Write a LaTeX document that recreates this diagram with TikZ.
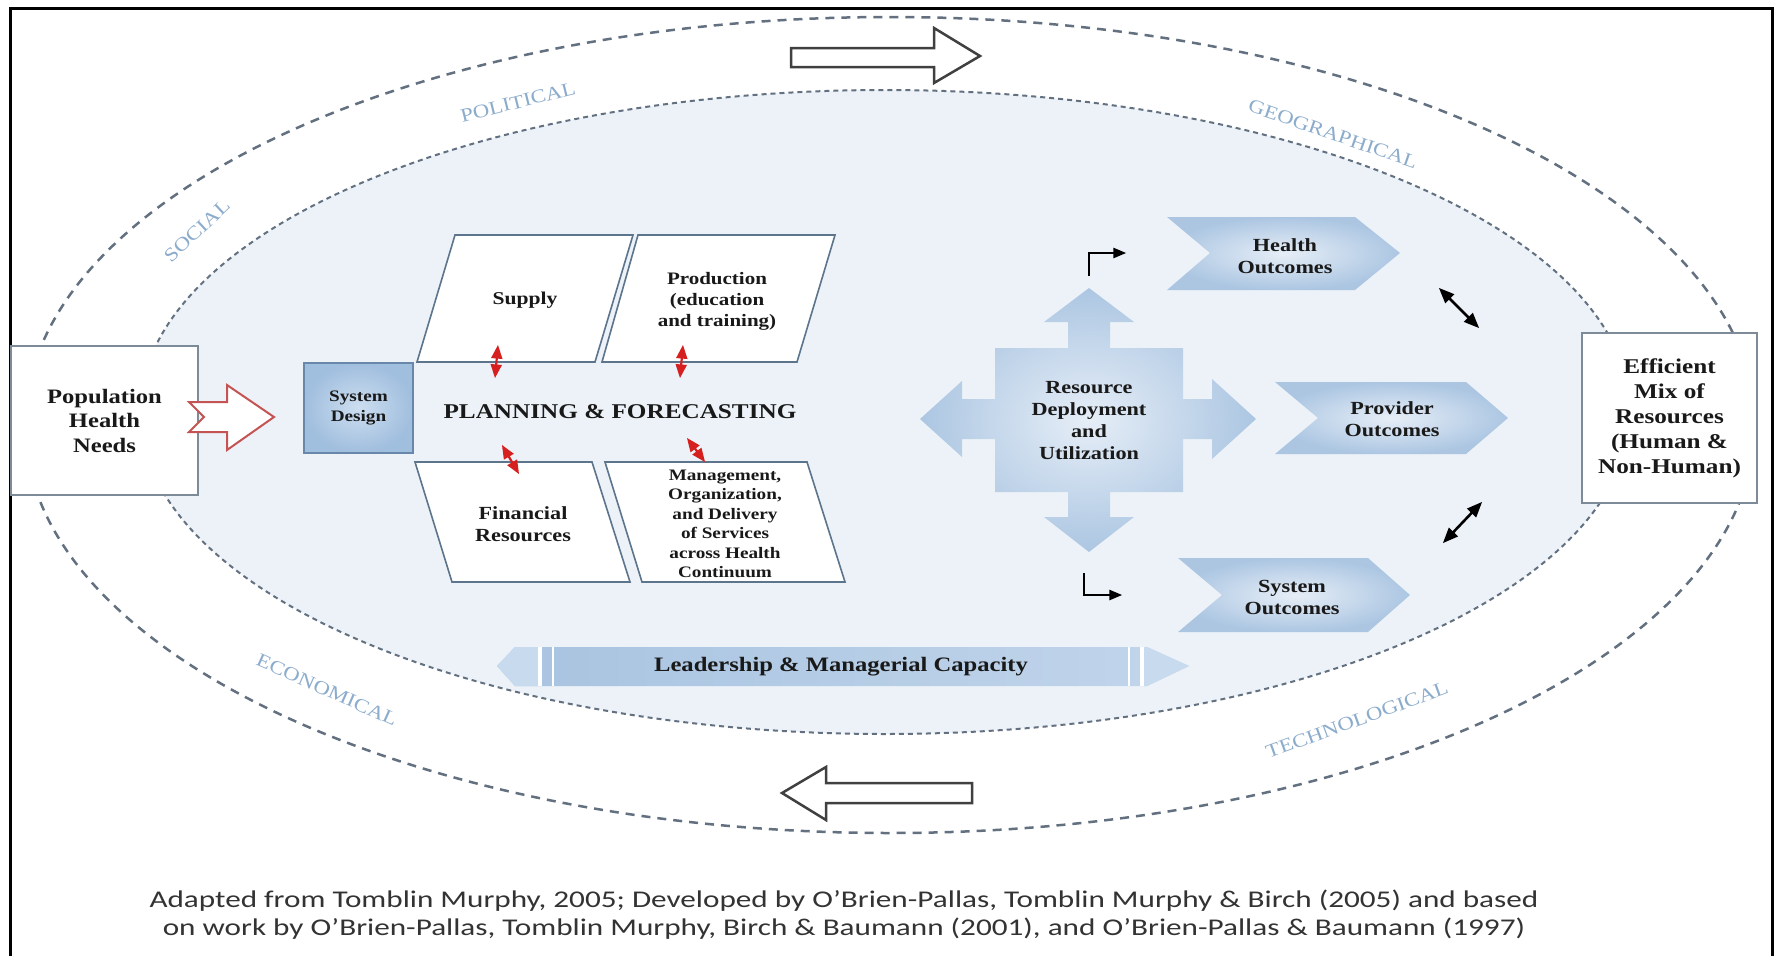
\documentclass[tikz,border=0pt]{standalone}
\usepackage{fontspec}
\setmainfont[FakeStretch=1.2]{Liberation Serif}
\newfontfamily\capfont[FakeStretch=1.3]{Carlito}
\usetikzlibrary{arrows}
\definecolor{ringgray}{RGB}{98,112,128}
\definecolor{labelblue}{RGB}{140,172,204}
\definecolor{innerfill}{RGB}{236,242,248}
\definecolor{boxline}{RGB}{125,138,152}
\definecolor{paraline}{RGB}{92,116,140}
\definecolor{sdlight}{RGB}{205,222,240}
\definecolor{sddark}{RGB}{160,190,222}
\definecolor{sdline}{RGB}{105,135,168}
\definecolor{chevlight}{RGB}{230,238,247}
\definecolor{chevdark}{RGB}{172,198,226}
\definecolor{barlight}{RGB}{200,218,238}
\definecolor{bardark}{RGB}{168,195,224}
\definecolor{blockred}{RGB}{196,84,84}
\definecolor{arrowred}{RGB}{214,32,32}
\tikzset{
  ring/.style={draw=ringgray, line width=2.5pt, dash pattern=on 9pt off 7pt},
  innerring/.style={draw=ringgray, line width=2pt, dash pattern=on 5pt off 4pt},
  envlabel/.style={text=labelblue, font=\fontsize{19}{19}\selectfont},
  txt/.style 2 args={align=center, inner sep=1pt, text=black!90, font=\bfseries\fontsize{#1}{#2}\selectfont},
  endbox/.style={draw=boxline, line width=2.5pt, fill=white},
  para/.style={draw=paraline, line width=1.6pt, fill=white},
  hollow/.style={draw=black!75, line width=2.5pt, fill=white},
  chev/.style={inner color=chevlight, outer color=chevdark},
  redarr/.style={<->, >=triangle 45, draw=arrowred, line width=2.2pt},
  blackarr/.style={<->, >=triangle 45, line width=2.6pt},
  bent/.style={->, >=triangle 45, line width=2pt}
}
\begin{document}
\begin{tikzpicture}[x=1pt, y=-1pt]
\useasboundingbox (0,0) rectangle (1777,956);
\fill[white] (0,0) rectangle (1777,956);
\fill[innerfill] (885,412) ellipse [x radius=745pt, y radius=322pt];
\draw[ring] (890,425) ellipse [x radius=865pt, y radius=408pt];
\draw[innerring] (885,412) ellipse [x radius=745pt, y radius=322pt];
\draw[line width=3pt] (10,956) -- (10,8) -- (1772,8) -- (1772,956);

\node[envlabel, rotate=14] (political) at (518,102) {POLITICAL};
\node[envlabel, rotate=43] (social) at (197,231) {SOCIAL};
\node[envlabel, rotate=-19] (geographical) at (1333,134) {GEOGRAPHICAL};
\node[envlabel, rotate=-24] (economical) at (327,690) {ECONOMICAL};
\node[envlabel, rotate=20] (technological) at (1357,720) {TECHNOLOGICAL};

\draw[hollow] (791,48) -- (934,48) -- (934,28) -- (980,56) -- (934,83) -- (934,67) -- (791,67) -- cycle;
\draw[hollow] (972,783) -- (826,783) -- (826,767) -- (782,793) -- (826,820) -- (826,803) -- (972,803) -- cycle;

\node[endbox, txt={20.5}{24.5}, minimum width=187pt, minimum height=149pt] (pop) at (104.5,420.5) {Population\\Health\\Needs};
\node[endbox, txt={21}{25}, minimum width=175pt, minimum height=170pt] (effmix) at (1669.5,418) {Efficient\\Mix of\\Resources\\(Human \&\\Non-Human)};
\draw[draw=blockred, line width=2pt, fill=white] (189,402) -- (227,402) -- (227,385) -- (274,417) -- (227,450) -- (227,432) -- (189,432) -- (204,417) -- cycle;
\node[draw=sdline, line width=2pt, inner color=sdlight, outer color=sddark, txt={16}{20}, minimum width=109pt, minimum height=90pt] (sysdesign) at (358.5,408) {System\\Design};

\draw[para] (455,235) -- (633,235) -- (595,362) -- (417,362) -- cycle;
\draw[para] (638,235) -- (835,235) -- (797,362) -- (602,362) -- cycle;
\draw[para] (415,462) -- (592,462) -- (630,582) -- (452,582) -- cycle;
\draw[para] (605,462) -- (807,462) -- (845,582) -- (642,582) -- cycle;
\node[txt={18}{21}] (supply) at (525,300) {Supply};
\node[txt={17.5}{21}] (production) at (717,301) {Production\\(education\\and training)};
\node[txt={18.5}{22}] (financial) at (523,524) {Financial\\Resources};
\node[txt={16}{19.5}] (management) at (725,524) {Management,\\Organization,\\and Delivery\\of Services\\across Health\\Continuum};
\node[txt={21}{25}] (plan) at (620,412) {PLANNING \& FORECASTING};

\coordinate (s1a) at (498,345); \coordinate (s1b) at (495,378);
\coordinate (s2a) at (683,345); \coordinate (s2b) at (680,378);
\coordinate (s3a) at (502,445); \coordinate (s3b) at (519,474);
\coordinate (s4a) at (687,438); \coordinate (s4b) at (705,462);
\draw[redarr] (s1a) -- (s1b);
\draw[redarr] (s2a) -- (s2b);
\draw[redarr] (s3a) -- (s3b);
\draw[redarr] (s4a) -- (s4b);

\shade[chev] (1089,288) -- (1134,322) -- (1110,322) -- (1110,348) -- (1183,348) -- (1183,399) -- (1212,399) -- (1212,379) -- (1256,419) -- (1212,459) -- (1212,439) -- (1183,439) -- (1183,492) -- (1110,492) -- (1110,517) -- (1134,517) -- (1089,552) -- (1044,517) -- (1068,517) -- (1068,492) -- (995,492) -- (995,439) -- (962,439) -- (962,457) -- (920,419) -- (962,381) -- (962,399) -- (995,399) -- (995,348) -- (1068,348) -- (1068,322) -- (1044,322) -- cycle;
\node[txt={18.5}{22}] (resdep) at (1089,421) {Resource\\Deployment\\and\\Utilization};

\shade[chev] (1167,217) -- (1355,217) -- (1400,253) -- (1355,290) -- (1167,290) -- (1210,253) -- cycle;
\shade[chev] (1275,382) -- (1466,382) -- (1508,418) -- (1466,454) -- (1275,454) -- (1318,418) -- cycle;
\shade[chev] (1178,558) -- (1368,558) -- (1410,595) -- (1368,632) -- (1178,632) -- (1222,595) -- cycle;
\node[txt={18.5}{22}] (health) at (1285,256) {Health\\Outcomes};
\node[txt={18.5}{22}] (provider) at (1392,419) {Provider\\Outcomes};
\node[txt={18.5}{22}] (sysout) at (1292,597) {System\\Outcomes};

\coordinate (b1) at (1089,276); \coordinate (b1t) at (1126,253);
\coordinate (b2) at (1084,573); \coordinate (b2t) at (1122,595);
\draw[bent] (b1) |- (b1t);
\draw[bent] (b2) |- (b2t);

\coordinate (o1a) at (1439,288); \coordinate (o1b) at (1479,328);
\coordinate (o2a) at (1443,543); \coordinate (o2b) at (1482,502);
\draw[blackarr] (o1a) -- (o1b);
\draw[blackarr] (o2a) -- (o2b);

\shade[left color=bardark, right color=barlight!80!bardark] (497,666) -- (515,647) -- (1147,647) -- (1189,666) -- (1147,686) -- (515,686) -- cycle;
\fill[barlight] (497,666) -- (515,647) -- (538,647) -- (538,686) -- (515,686) -- cycle;
\fill[barlight] (1144,647) -- (1147,647) -- (1189,666) -- (1147,686) -- (1144,686) -- cycle;
\foreach \sx/\sw in {540/4, 553/2, 1129/2, 1142/4}
  \draw[white, line width=\sw pt] (\sx,647) -- (\sx,686);
\node[txt={20.5}{24}] (leader) at (841,667) {Leadership \& Managerial Capacity};

\node[align=center, text=black!80, font=\capfont\fontsize{24}{28}\selectfont] (caption) at (844,915) {Adapted from Tomblin Murphy, 2005; Developed by O’Brien-Pallas, Tomblin Murphy \& Birch (2005) and based\\on work by O’Brien-Pallas, Tomblin Murphy, Birch \& Baumann (2001), and O’Brien-Pallas \& Baumann (1997)};
\end{tikzpicture}
\end{document}
